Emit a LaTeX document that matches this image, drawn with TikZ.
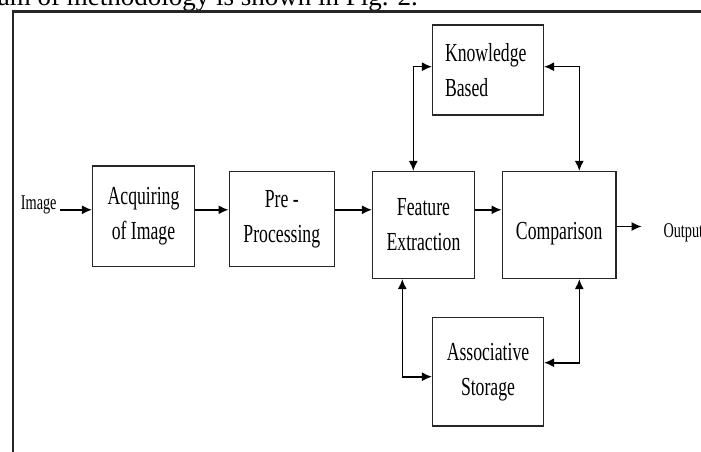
\documentclass[tikz,border=0pt]{standalone}
\usepackage{fontspec}
\setmainfont{Liberation Serif}[FakeStretch=0.68]
\newfontfamily\capfont{Liberation Serif}
\usetikzlibrary{arrows.meta}
\tikzset{>={Latex[length=10pt,width=9pt]}}
\tikzset{
  block/.style = {draw=black!85, line width=1.5pt, inner sep=0pt,
    align=center, font=\fontsize{26}{35}\selectfont},
  io/.style = {inner ysep=0pt, inner xsep=3pt, font=\fontsize{21}{25}\selectfont},
  flow/.style = {->, line width=1.6pt},
  link/.style = {<->, line width=1.6pt}
}

\begin{document}
\begin{tikzpicture}[x=1pt,y=-1pt]
  \clip (0,0) rectangle (701,452);
  % text above the frame
  \node[anchor=base east, inner sep=0pt, font=\capfont\fontsize{27}{30}\selectfont] (cap) at (418,5.5) {ram of methodology is shown in Fig. 2.};
  % frame
  \draw[line width=2.4pt, black!85] (701,11.7) -- (12.7,11.7) -- (12.7,452);
  % blocks of the chain
  \node[block, minimum width=101.6pt, minimum height=100.7pt] (acq) at (143.5,216.3) {Acquiring\\of Image};
  \node[block, minimum width=105pt, minimum height=95pt] (pre) at (281.8,219.2) {Pre -\\Processing};
  \node[block, minimum width=101.6pt, minimum height=106.6pt] (feat) at (423.5,225) {Feature\\Extraction};
  \node[block, minimum width=113.7pt, minimum height=0pt, text height=67.6pt, text depth=39pt] (comp) at (559.2,225) {Comparison};
  % stores
  \node[block, align=left, text width=86pt, inner xsep=12.3pt, minimum height=90pt] (know) at (488,70) {Knowledge\\Based};
  \node[block, minimum width=110.6pt, minimum height=108.7pt] (assoc) at (488,371.7) {Associative\\Storage};
  % input and output
  \node[io, anchor=base west] (img) at (17.7,209.8) {Image};
  \node[io, anchor=base west] (out) at (660.3,237.7) {Output};
  \coordinate (outtip) at (641.7,226.5);
  % arrows
  \draw[flow] (img.base east) -- (img.base east -| acq.west);
  \draw[flow] (acq.east |- img.base east) -- (pre.west |- img.base east);
  \draw[flow] (pre.east |- img.base east) -- (feat.west |- img.base east);
  \draw[flow] (feat.east |- img.base east) -- (comp.west |- img.base east);
  \draw[flow] (comp.east |- outtip) -- (outtip);
  % links to the stores
  \draw[link] ([yshift=3.3pt]know.west) -| ([xshift=-10.2pt]feat.north);
  \draw[link] ([yshift=3.3pt]know.east) -| ([xshift=20.1pt]comp.north);
  \draw[link] ([xshift=-21.2pt]feat.south) |- ([yshift=-5pt]assoc.west);
  \draw[link] ([xshift=20.1pt]comp.south) |- ([yshift=9pt]assoc.east);
\end{tikzpicture}
\end{document}
